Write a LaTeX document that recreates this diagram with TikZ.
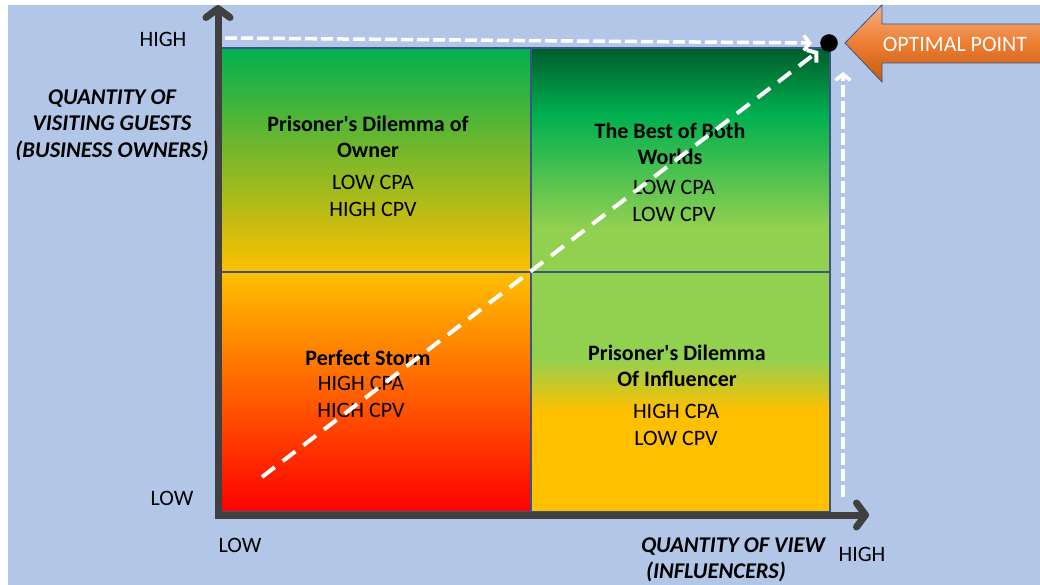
\documentclass[tikz,border=0pt]{standalone}
\usepackage{fontspec}
\setmainfont{Carlito}
\usetikzlibrary{arrows.meta}
\definecolor{bgblue}{HTML}{B2C6E7}
\definecolor{axisgray}{HTML}{404040}
\definecolor{qgreen}{HTML}{00B050}
\definecolor{qamber}{HTML}{FFC000}
\definecolor{qred}{HTML}{FF0000}
\definecolor{qlight}{HTML}{92D050}
\definecolor{qdark}{HTML}{005C2B}
\definecolor{qborder}{HTML}{3A5488}
\definecolor{orlight}{HTML}{F4B183}
\definecolor{ormid}{HTML}{ED7D31}
\definecolor{ordark}{HTML}{C55A11}
\pgfdeclareverticalshading{shTL}{100bp}{color(0bp)=(qamber); color(25bp)=(qamber); color(75bp)=(qgreen); color(100bp)=(qgreen)}
\pgfdeclareverticalshading{shBL}{100bp}{color(0bp)=(qred); color(25bp)=(qred); color(75bp)=(qamber); color(100bp)=(qamber)}
\pgfdeclareverticalshading{shTR}{100bp}{color(0bp)=(qlight); color(35bp)=(qlight); color(60bp)=(qgreen); color(75bp)=(qdark); color(100bp)=(qdark)}
\pgfdeclareverticalshading{shBR}{100bp}{color(0bp)=(qamber); color(46bp)=(qamber); color(57bp)=(qlight); color(100bp)=(qlight)}
\pgfdeclareverticalshading{shOR}{100bp}{color(0bp)=(ordark); color(25bp)=(ordark); color(50bp)=(ormid); color(75bp)=(orlight); color(100bp)=(orlight)}
\begin{document}
\begin{tikzpicture}[x=1pt,y=-1pt,
  every node/.style={inner sep=0pt, outer sep=0pt},
  quad/.style={draw=qborder, line width=1.2pt, anchor=north west},
  body/.style={font=\fontsize{22}{26.5}\selectfont, align=center},
  title/.style={font=\fontsize{22}{26.5}\selectfont\bfseries, align=center},
  axlab/.style={font=\fontsize{22.5}{26.5}\selectfont\bfseries\itshape},
  ticklab/.style={font=\fontsize{22}{24}\selectfont},
  axis/.style={draw=axisgray, line width=7pt, line join=miter, {Straight Barb[length=9pt,width=24pt,round]}-{Straight Barb[length=9pt,width=24pt,round]}},
  wdash/.style={draw=white, line width=3.5pt, dash pattern=on 12pt off 4pt, -{Straight Barb[length=6pt,width=15pt]}},
  ddash/.style={draw=white, line width=4pt, dash pattern=on 16pt off 10pt, -{Straight Barb[length=6pt,width=16pt]}}
]
\useasboundingbox (0,0) rectangle (1040,585);
\begin{scope}
\clip (0,0) rectangle (1040,585);
\fill[white] (0,0) rectangle (1040,585);
\fill[bgblue] (8,5) rectangle (1040,585);

% quadrants
\node[quad, shading=shTL, minimum width=311pt, minimum height=224pt] (qtl) at (220,48) {};
\node[quad, shading=shTR, minimum width=299pt, minimum height=224pt] (qtr) at (531,48) {};
\node[quad, shading=shBL, minimum width=311pt, minimum height=240pt] (qbl) at (220,272) {};
\node[quad, shading=shBR, minimum width=299pt, minimum height=240pt] (qbr) at (531,272) {};

% quadrant texts
\node[title] (ttl) at (368,137) {Prisoner\textquotesingle s Dilemma of\\Owner};
\node[body] (vtl) at (373,196) {LOW CPA\\HIGH CPV};
\node[title] (ttr) at (670,144) {The Best of Both\\Worlds};
\node[body] (vtr) at (674,201) {LOW CPA\\LOW CPV};
\node[title] (tbl) at (368,358) {Perfect Storm};
\node[body] (vbl) at (361,397) {HIGH CPA\\HIGH CPV};
\node[title] (tbr) at (677,366) {Prisoner\textquotesingle s Dilemma\\Of Influencer};
\node[body] (vbr) at (676,425) {HIGH CPA\\LOW CPV};

% optimal point
\node[circle, fill=black, draw=black, minimum size=17pt] (opt) at (829,43) {};
\draw[draw=qborder, line width=0.8pt, shading=shOR] (845,43) -- (882,5) -- (882,24) -- (1045,24) -- (1045,63) -- (882,63) -- (882,82) -- cycle;
\node[font=\fontsize{22}{24}\selectfont, text=white] (optlab) at (955,44) {OPTIMAL POINT};

% dashed arrows
\coordinate (topstart) at (225,38);
\coordinate (rightstart) at (843,497);
\coordinate (diagstart) at (262,477);
\draw[wdash] (topstart) -- (opt.west -| 812,0) ;
\draw[wdash] (rightstart) -- (843,72);
\draw[ddash, shorten >=5pt] (diagstart) -- (opt);

% axes
\coordinate (origin) at (218,515);
\coordinate (ytip) at (218,5);
\coordinate (xtip) at (869,515);
\draw[axis] (ytip) -- (origin) -- (xtip);

% axis labels
\node[ticklab] (yhigh) at (163,39) {HIGH};
\node[ticklab] (ylow) at (172,498) {LOW};
\node[ticklab] (xlow) at (240,545) {LOW};
\node[ticklab] (xhigh) at (862,554) {HIGH};
\node[axlab, align=center] (ylab) at (112,125) {QUANTITY OF\\VISITING GUESTS\\(BUSINESS OWNERS)};
\node[axlab, align=left, anchor=west] (xlab) at (641,560) {QUANTITY OF VIEW\\\ (INFLUENCERS)};
\end{scope}
\end{tikzpicture}
\end{document}
